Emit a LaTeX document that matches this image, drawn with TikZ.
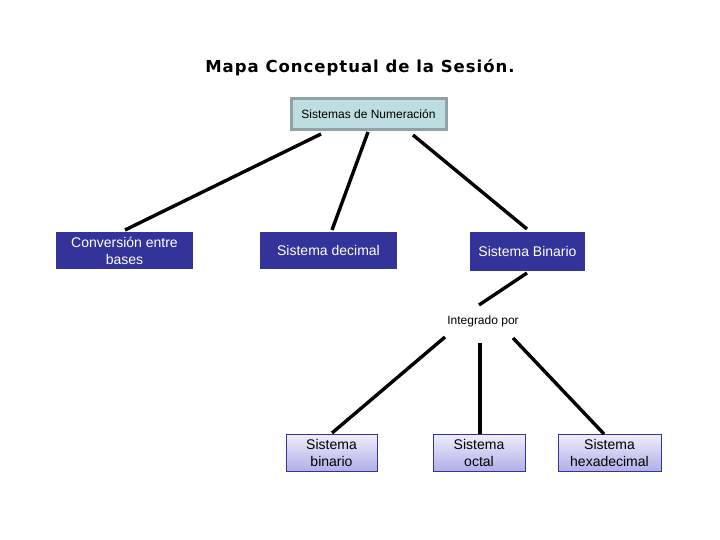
\documentclass[tikz,border=0pt]{standalone}
\usepackage{fontspec}
\setmainfont{Liberation Sans}
\newfontfamily\titlefont[LetterSpace=6]{DejaVu Sans}
\definecolor{navy}{HTML}{333399}
\definecolor{topfill}{HTML}{BDDDE0}
\definecolor{topline}{HTML}{8FA3A5}
\definecolor{gradtop}{HTML}{EEEEFC}
\definecolor{gradbot}{HTML}{B0B0E8}
\tikzset{
  topbox/.style={draw=topline, line width=3pt, fill=topfill, inner sep=0pt,
    font=\fontsize{12}{14}\selectfont},
  bluebox/.style={fill=navy, text=white, inner sep=0pt, align=center,
    font=\fontsize{14}{17}\selectfont},
  leafbox/.style={draw=navy, line width=0.8pt, top color=gradtop, bottom color=gradbot,
    inner sep=0pt, align=center, font=\fontsize{14}{17}\selectfont},
  link/.style={line width=3.4pt, black},
}
\begin{document}
\begin{tikzpicture}[x=1pt,y=-1pt]
\useasboundingbox (0,0) rectangle (720,540);
\node[font=\titlefont\bfseries\fontsize{16.5}{19}\selectfont] (title) at (360,68) {Mapa Conceptual de la Sesión.};
\node[topbox, minimum width=155pt, minimum height=31pt] (sn) at (368.5,114.5) {Sistemas de Numeración};
\node[bluebox, minimum width=137pt, minimum height=37pt] (conv) at (124.5,250.5) {Conversión entre\\bases};
\node[bluebox, minimum width=137pt, minimum height=37pt] (dec) at (328.5,250.5) {Sistema decimal};
\node[bluebox, minimum width=115pt, minimum height=39pt] (bin) at (527.5,251.5) {Sistema Binario};
\node[font=\fontsize{12}{14}\selectfont, inner sep=0pt] (int) at (483,321) {Integrado por};
\node[leafbox, minimum width=91pt, minimum height=37pt] (lb) at (331.5,452.5) {Sistema\\binario};
\node[leafbox, minimum width=92pt, minimum height=37pt] (lo) at (479,452.5) {Sistema\\octal};
\node[leafbox, minimum width=103pt, minimum height=37pt] (lh) at (609.5,452.5) {Sistema\\hexadecimal};
% connector end points
\coordinate (a1) at (321,134); \coordinate (b1) at (125,230);
\coordinate (a2) at (368,132); \coordinate (b2) at (332,230);
\coordinate (a3) at (413,135); \coordinate (b3) at (527,229);
\coordinate (a4) at (527,273); \coordinate (b4) at (479,305);
\coordinate (a5) at (445,337); \coordinate (b5) at (332,433);
\coordinate (a6) at (480,343); \coordinate (b6) at (480,434);
\coordinate (a7) at (513,338); \coordinate (b7) at (604,434);
\draw[link] (a1) -- (b1);
\draw[link] (a2) -- (b2);
\draw[link] (a3) -- (b3);
\draw[link] (a4) -- (b4);
\draw[link] (a5) -- (b5);
\draw[link] (a6) -- (b6);
\draw[link] (a7) -- (b7);
\end{tikzpicture}
\end{document}
